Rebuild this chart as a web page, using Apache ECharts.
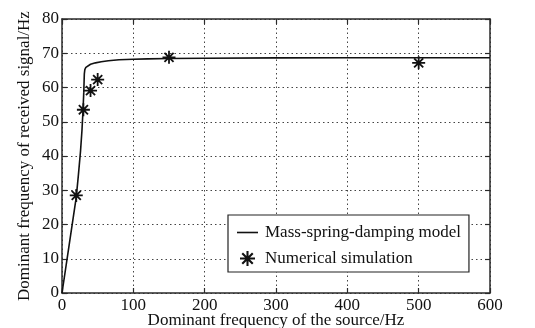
<!DOCTYPE html>
<html><head><meta charset="utf-8">
<script src="https://cdn.jsdelivr.net/npm/echarts@6/dist/echarts.min.js"></script>
<style>html,body{margin:0;padding:0;background:#fff}#c{width:535px;height:328px}</style>
</head><body><div id="c"></div>
<script>
var xTicks = [0, 100, 200, 300, 400, 500, 600];
var yTicks = [0, 10, 20, 30, 40, 50, 60, 70, 80];
var modelX = [0, 10, 20, 23, 26, 28, 29.5, 30.5, 31, 31.3, 32, 33.5, 36, 40, 47, 55, 65, 80, 100, 120, 150, 200, 300, 400, 500, 600];
var modelY = [0, 14, 28, 34.5, 41.5, 47.5, 53.5, 58.5, 62, 64, 65.2, 65.9, 66.4, 66.8, 67.2, 67.5, 67.8, 68.1, 68.25, 68.35, 68.45, 68.55, 68.65, 68.7, 68.7, 68.7];
var simX = [20, 30, 40, 50, 150, 500];
var simY = [28.5, 53.5, 59.1, 62.3, 68.8, 67.2];
var seriesNames = ['Mass-spring-damping model', 'Numerical simulation'];

var FONT = 'Liberation Serif';
var star = 'path://M-0.9,-6.5L0.9,-6.5L0.9,6.5L-0.9,6.5Z M-6.5,-0.9L6.5,-0.9L6.5,0.9L-6.5,0.9Z M-5.2,-3.9L-3.9,-5.2L5.2,3.9L3.9,5.2Z M3.9,-5.2L5.2,-3.9L-3.9,5.2L-5.2,3.9Z';
var lineData = modelX.map(function(x, i){ return [x, modelY[i]]; });
var simData = simX.map(function(x, i){ return [x, simY[i]]; });
var axisCommon = {
  type: 'value',
  axisLine: {show: true, onZero: false, lineStyle: {color: '#2a2a2a', width: 1.5}},
  axisTick: {show: true, inside: true, length: 5, lineStyle: {color: '#2a2a2a', width: 1.2}},
  axisLabel: {color: '#111', fontFamily: FONT, fontSize: 17},
  nameTextStyle: {color: '#111', fontFamily: FONT, fontSize: 17},
  nameMoveOverlap: false,
  splitLine: {show: false}
};
function merge(a, b){ var o = JSON.parse(JSON.stringify(a)); for (var k in b) o[k] = b[k]; return o; }
var chart = echarts.init(document.getElementById('c'), null, {renderer: 'canvas'});
chart.setOption({
  animation: false,
  backgroundColor: '#fff',
  grid: {left: 62, right: 45, top: 19, bottom: 35, outerBoundsMode: 'none', containLabel: false},
  xAxis: [
    merge(axisCommon, {min: xTicks[0], max: xTicks[xTicks.length-1], interval: 100, position: 'bottom',
      name: 'Dominant frequency of the source/Hz', nameLocation: 'middle', nameGap: 19,
      axisLabel: {color: '#111', fontFamily: FONT, fontSize: 17, margin: 4},
      splitLine: {show: true, lineStyle: {color: '#444', type: [1.5, 3], width: 1}}}),
    merge(axisCommon, {min: xTicks[0], max: xTicks[xTicks.length-1], interval: 100, position: 'top',
      axisLabel: {show: false}})
  ],
  yAxis: [
    merge(axisCommon, {min: yTicks[0], max: yTicks[yTicks.length-1], interval: 10, position: 'left',
      name: 'Dominant frequency of received signal/Hz', nameLocation: 'middle', nameGap: 29,
      axisLabel: {color: '#111', fontFamily: FONT, fontSize: 17, margin: 3},
      splitLine: {show: true, lineStyle: {color: '#444', type: [1.5, 3], width: 1}}}),
    merge(axisCommon, {min: yTicks[0], max: yTicks[yTicks.length-1], interval: 10, position: 'right',
      axisLabel: {show: false}})
  ],
  legend: {
    left: 228, top: 215, orient: 'vertical',
    backgroundColor: '#fff',
    borderColor: '#222', borderWidth: 1.2,
    padding: [9, 8, 5, 9],
    itemGap: 9, itemWidth: 21, itemHeight: 15,
    textStyle: {color: '#111', fontFamily: FONT, fontSize: 17, padding: [0, 0, 0, 2]},
    data: [
      {name: seriesNames[0], icon: 'path://M0,0L21,0L21,1.6L0,1.6Z'},
      {name: seriesNames[1], icon: star}
    ]
  },
  series: [
    {name: seriesNames[0], type: 'line', data: lineData, showSymbol: false, symbol: 'none', smooth: false,
      lineStyle: {color: '#111', width: 1.6}, itemStyle: {color: '#111'}, z: 3},
    {name: seriesNames[1], type: 'scatter', data: simData, symbol: star, symbolSize: 13,
      itemStyle: {color: '#111', opacity: 1}, z: 4}
  ]
});
</script></body></html>
